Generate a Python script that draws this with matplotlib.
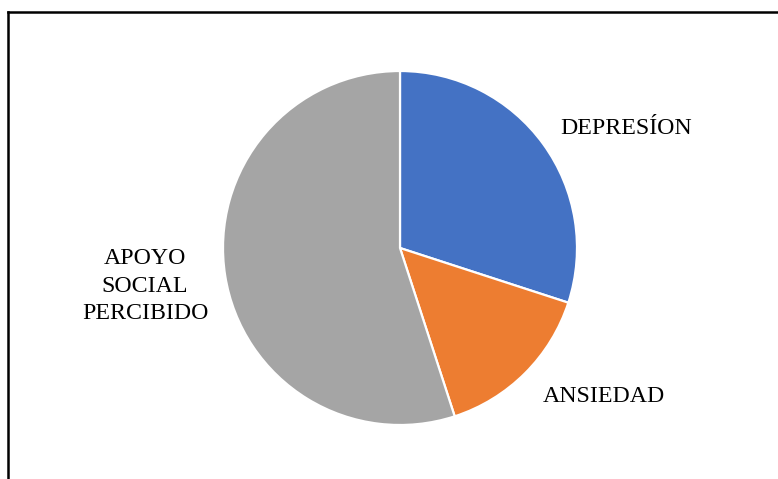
import matplotlib.pyplot as plt
from matplotlib.lines import Line2D

# porcentajes de cada variable
labels = ["DEPRESÍON", "ANSIEDAD", "APOYO\nSOCIAL\nPERCIBIDO"]
values = [30, 15, 55]
colors = ["#4472C4", "#ED7D31", "#A5A5A5"]

W, H = 778, 479
fig = plt.figure(figsize=(W / 100, H / 100), dpi=100)
ax = fig.add_axes([0, 0, 1, 1])

# pastel en coordenadas de pixel (y hacia arriba)
ax.pie(values, colors=colors, startangle=90, counterclock=False,
       center=(400, H - 248), radius=177, frame=True,
       wedgeprops=dict(edgecolor="white", linewidth=1.6))
ax.set_xlim(0, W)
ax.set_ylim(0, H)
ax.set_aspect("auto")
ax.axis("off")

font = dict(family="Liberation Serif", fontsize=17.2, color="black",
            ha="center", va="center")
label_pos = [(626, 128), (604, 397), (145, 286)]
for txt, (x, y) in zip(labels, label_pos):
    ax.text(x, H - y, txt, linespacing=1.42, **font)

# marco (solo se ven el borde izquierdo y el superior)
fig.add_artist(Line2D([8 / W, 8 / W], [0, 1 - 12 / H], color="black",
                      linewidth=1.8, transform=fig.transFigure))
fig.add_artist(Line2D([8 / W, 777 / W], [1 - 12 / H, 1 - 12 / H],
                      color="black", linewidth=1.8,
                      transform=fig.transFigure))

fig.savefig("out.png", dpi=100)
